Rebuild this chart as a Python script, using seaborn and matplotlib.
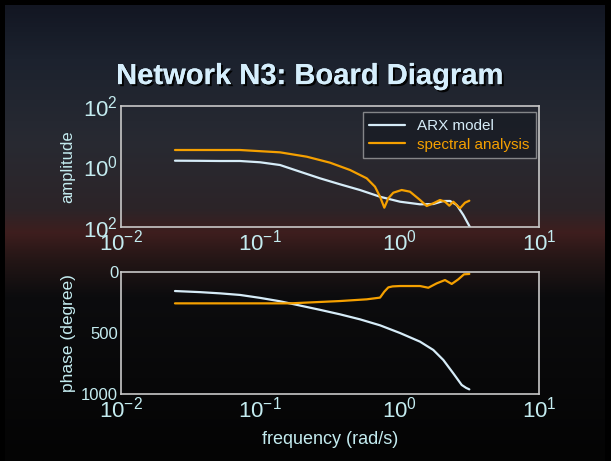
import numpy as np
import matplotlib
matplotlib.use('Agg')
import matplotlib.pyplot as plt
import matplotlib.patheffects as pe
from matplotlib.ticker import FixedLocator, NullLocator, FuncFormatter
import seaborn as sns

# ---- data ------------------------------------------------------------------
arx_amp_freq = [0.0244, 0.0369, 0.0513, 0.0714, 0.0995, 0.1384, 0.1927, 0.268,
                0.373, 0.519, 0.723, 1.005, 1.40, 1.743, 2.057, 2.298, 2.567,
                2.862, 3.20]
arx_amp = [1.556, 1.54, 1.52, 1.52, 1.38, 1.12, 0.673, 0.407,
           0.258, 0.167, 0.100, 0.0686, 0.0562, 0.0575, 0.0724, 0.0724, 0.0533,
           0.0250, 0.0098]

spa_amp_freq = [0.0244, 0.0714, 0.1384, 0.2153, 0.316, 0.4405, 0.580, 0.665,
                0.723, 0.776, 0.829, 0.900, 1.034, 1.186, 1.40, 1.563, 1.743,
                1.948, 2.115, 2.272, 2.427, 2.710, 2.944, 3.162]
spa_amp = [3.51, 3.51, 2.94, 2.11, 1.34, 0.766, 0.407, 0.215,
           0.100, 0.0435, 0.0889, 0.136, 0.167, 0.147, 0.0782, 0.0494, 0.0607,
           0.0782, 0.0686, 0.0506, 0.0686, 0.0415, 0.0636, 0.0740]

arx_ph_freq = [0.0244, 0.0369, 0.0513, 0.0714, 0.0995, 0.1384, 0.1927, 0.268,
               0.373, 0.519, 0.723, 1.005, 1.40, 1.743, 2.057, 2.427, 2.788,
               3.00, 3.162]
arx_phase = [-156, -165, -175, -188, -212, -240, -275, -310,
             -347, -388, -437, -500, -571, -639, -721, -831, -926,
             -950, -962]

spa_ph_freq = [0.0244, 0.1634, 0.373, 0.580, 0.723, 0.776, 0.829, 0.890,
               1.005, 1.40, 1.606, 1.845, 2.115, 2.363, 2.636, 2.896, 3.162]
spa_phase = [-257, -257, -238, -224, -210, -161, -126, -118,
             -115, -115, -129, -93, -66, -98, -60, -19, -16]

freq_ticks = [0.01, 0.1, 1, 10]
freq_labels = ['$10^{-2}$', '$10^{-1}$', '$10^{0}$', '$10^{1}$']
amp_ticks = [0.01, 1, 100]
amp_labels = ['$10^{2}$', '$10^{0}$', '$10^{2}$']
phase_ticks = [0, -500, -1000]

# ---- style -------------------------------------------------------------------
sns.set_theme(style='dark')
plt.rcParams['font.family'] = ['Liberation Sans', 'DejaVu Sans']
plt.rcParams['mathtext.fontset'] = 'custom'
plt.rcParams['mathtext.rm'] = 'Liberation Sans'
plt.rcParams['mathtext.it'] = 'Liberation Sans:italic'
plt.rcParams['mathtext.bf'] = 'Liberation Sans:bold'

TXT = '#c4ecf0'
ARX_C = '#d6ecf8'
SPA_C = '#f5a000'
SPINE = '#c8c8c8'

fig = plt.figure(figsize=(6.11, 4.61), dpi=100)
fig.patch.set_facecolor('black')

# dark cloudy slide background (vertical gradient)
bg = fig.add_axes([5 / 611, 0, 600 / 611, 456 / 461], zorder=-10)
stops = [0.0, 0.12, 0.30, 0.45, 0.50, 0.56, 0.64, 1.0]
cols = np.array([[18, 22, 34], [28, 34, 46], [40, 42, 50], [44, 36, 40],
                 [62, 30, 30], [36, 22, 22], [12, 12, 14], [4, 4, 4]]) / 255.0
yy = np.linspace(0, 1, 300)
grad = np.stack([np.interp(yy, stops, cols[:, k]) for k in range(3)], axis=-1)
bg.imshow(grad[:, None, :], aspect='auto', extent=[0, 1, 1, 0])
bg.set_axis_off()

ax1 = fig.add_axes([121 / 611, 1 - 227 / 461, 418 / 611, 121 / 461])
ax2 = fig.add_axes([121 / 611, 1 - 394 / 461, 418 / 611, 122 / 461])

sns.lineplot(x=arx_amp_freq, y=arx_amp, ax=ax1, color=ARX_C, lw=1.6, label='ARX model')
sns.lineplot(x=spa_amp_freq, y=spa_amp, ax=ax1, color=SPA_C, lw=1.6, label='spectral analysis')
sns.lineplot(x=arx_ph_freq, y=arx_phase, ax=ax2, color=ARX_C, lw=1.6)
sns.lineplot(x=spa_ph_freq, y=spa_phase, ax=ax2, color=SPA_C, lw=1.6)

for ax in (ax1, ax2):
    ax.set_facecolor('none')
    ax.set_xscale('log')
    ax.set_xlim(0.01, 10)
    ax.xaxis.set_major_locator(FixedLocator(freq_ticks))
    ax.set_xticklabels(freq_labels)
    ax.xaxis.set_minor_locator(NullLocator())
    ax.tick_params(axis='x', length=0, pad=2, labelsize=16, colors=TXT)
    ax.tick_params(axis='y', length=0, pad=2, colors=TXT)
    ax.grid(False)
    for s in ax.spines.values():
        s.set_visible(True)
        s.set_color(SPINE)
        s.set_linewidth(1.2)

ax1.set_yscale('log')
ax1.set_ylim(0.01, 100)
ax1.yaxis.set_major_locator(FixedLocator(amp_ticks))
ax1.set_yticklabels(amp_labels)
ax1.yaxis.set_minor_locator(NullLocator())
ax1.tick_params(axis='y', labelsize=16)
ax1.set_ylabel('amplitude', color=TXT, fontsize=12, labelpad=6)

ax2.set_ylim(-1000, 0)
ax2.yaxis.set_major_locator(FixedLocator(phase_ticks))
ax2.yaxis.set_major_formatter(FuncFormatter(lambda v, p: f'{abs(v):.0f}'))
ax2.tick_params(axis='y', labelsize=12)
ax2.set_ylabel('phase (degree)', color=TXT, fontsize=12.5, labelpad=4)
ax2.set_xlabel('frequency (rad/s)', color=TXT, fontsize=13, labelpad=6)

leg = ax1.legend(loc='upper right', bbox_to_anchor=(0.993, 0.95), borderaxespad=0,
                 fontsize=11, labelcolor='linecolor', frameon=True, fancybox=False,
                 handlelength=2.3, handletextpad=0.8, borderpad=0.45,
                 labelspacing=0.3)
leg.get_frame().set_facecolor('#141820')
leg.get_frame().set_alpha(0.6)
leg.get_frame().set_edgecolor(SPINE)
leg.get_frame().set_linewidth(1.0)

fig.text(0.507, 0.835, 'Network N3: Board Diagram', ha='center', va='center',
         fontsize=21, fontweight='bold', color='#d5eefc',
         path_effects=[pe.withSimplePatchShadow(offset=(1.5, -1.5),
                                                shadow_rgbFace='black', alpha=0.9),
                       pe.Normal()])

fig.savefig('out.png', dpi=100, facecolor=fig.get_facecolor())
